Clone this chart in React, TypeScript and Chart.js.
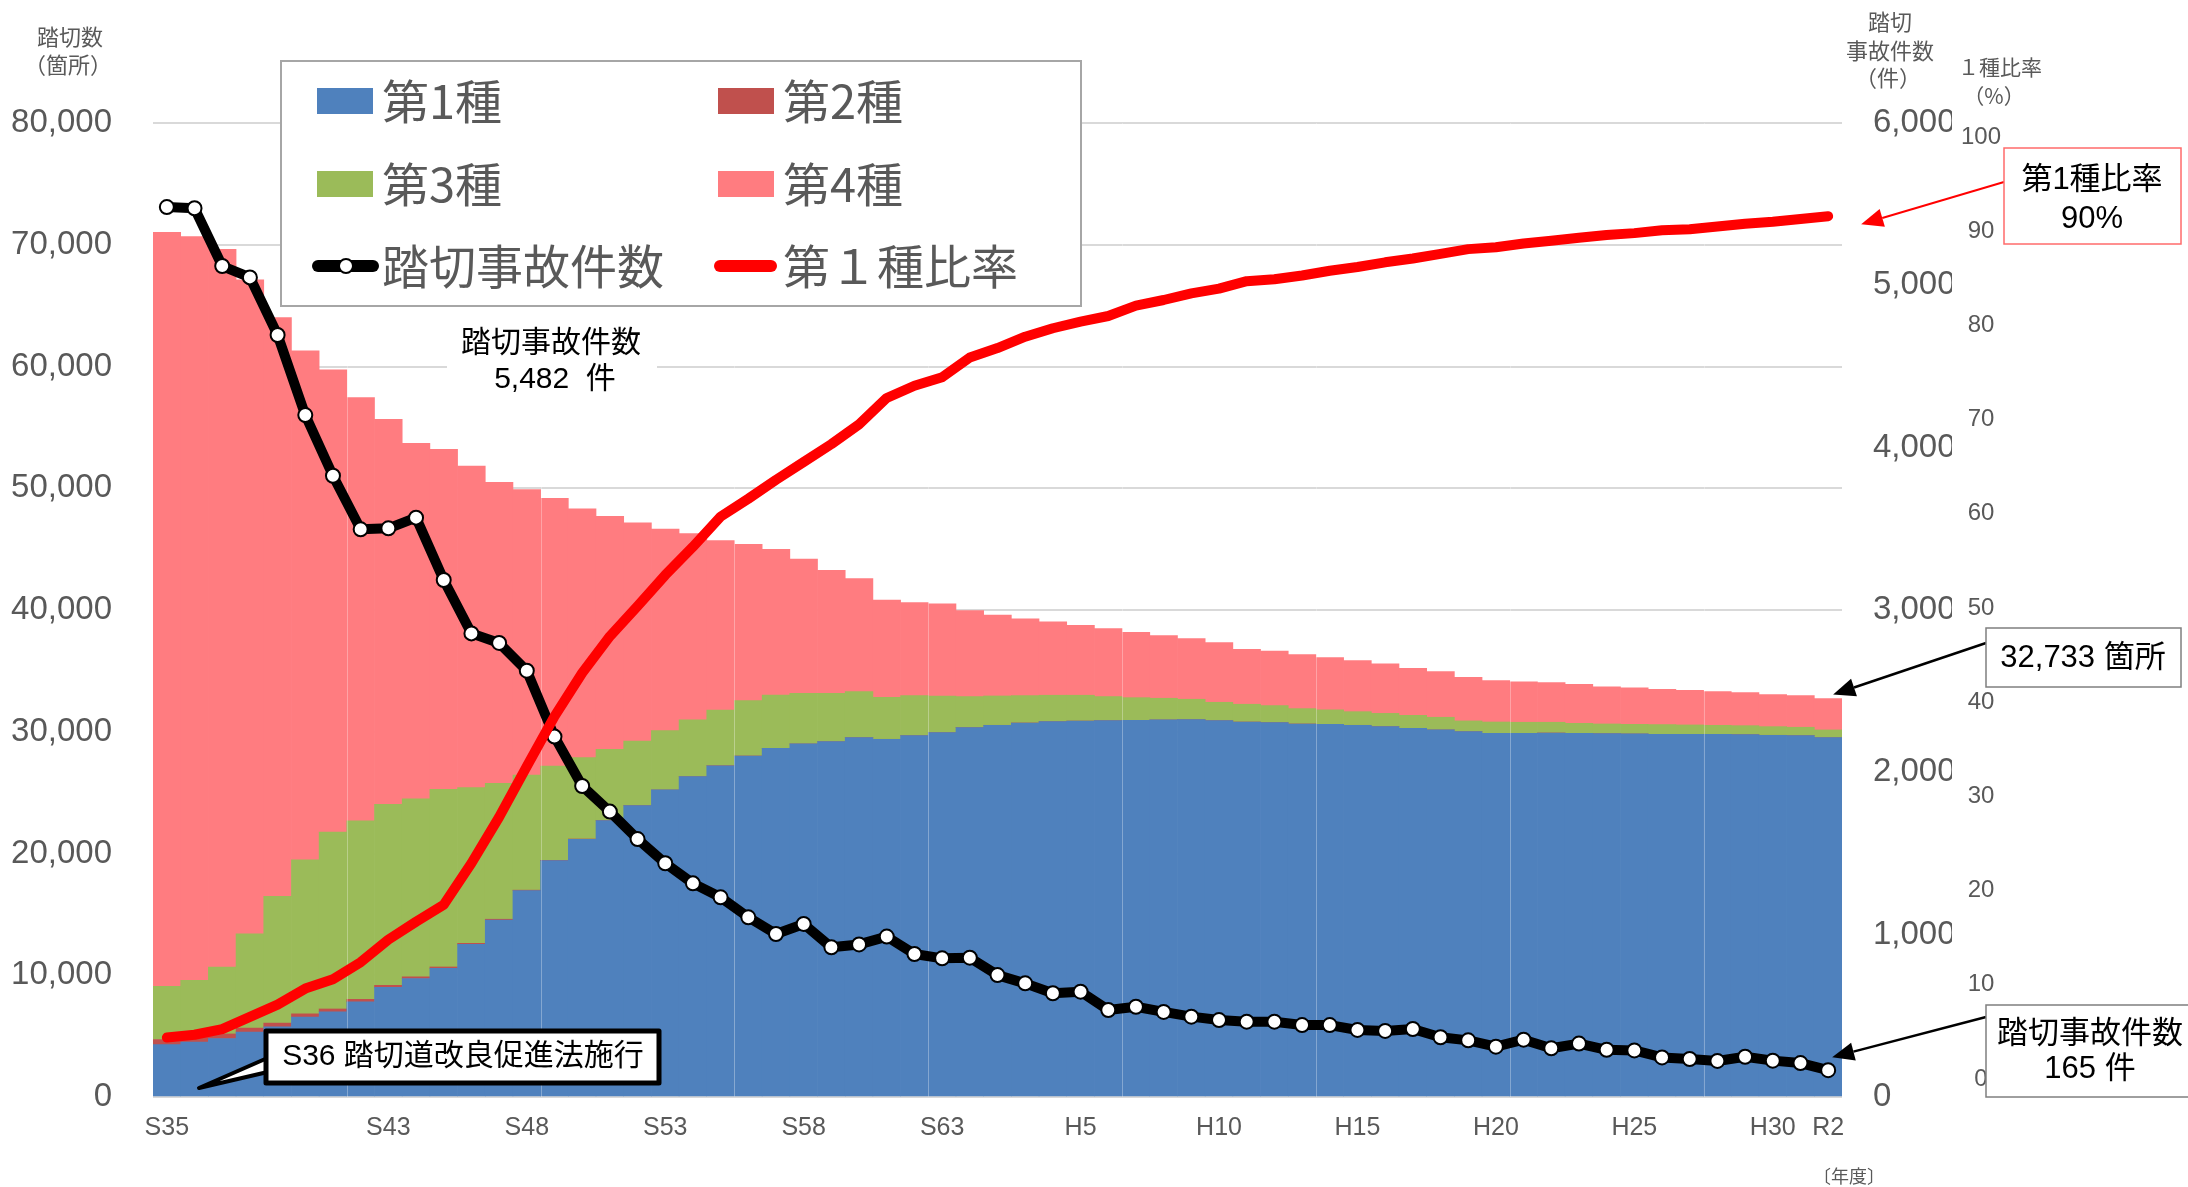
import React, { useEffect, useRef } from 'react';
import { Chart, registerables } from 'chart.js';

Chart.register(...registerables);

const years = [
  'S35', 'S36', 'S37', 'S38', 'S39', 'S40', 'S41', 'S42', 'S43', 'S44',
  'S45', 'S46', 'S47', 'S48', 'S49', 'S50', 'S51', 'S52', 'S53', 'S54',
  'S55', 'S56', 'S57', 'S58', 'S59', 'S60', 'S61', 'S62', 'S63',
  'H1', 'H2', 'H3', 'H4', 'H5', 'H6', 'H7', 'H8', 'H9', 'H10',
  'H11', 'H12', 'H13', 'H14', 'H15', 'H16', 'H17', 'H18', 'H19', 'H20',
  'H21', 'H22', 'H23', 'H24', 'H25', 'H26', 'H27', 'H28', 'H29', 'H30',
  'R1', 'R2',
];

const shownYears = ['S35', 'S43', 'S48', 'S53', 'S58', 'S63', 'H5', 'H10', 'H15', 'H20', 'H25', 'H30', 'R2'];

// 第1種 (箇所)
const type1 = [
  4300, 4510, 4800, 5330, 5770, 6560, 7000, 7820, 9000, 9730,
  10570, 12540, 14540, 16950, 19410, 21170, 22700, 23930, 25220, 26310,
  27210, 28010, 28640, 29000, 29190, 29520, 29380, 29680, 29930,
  30340, 30530, 30720, 30830, 30880, 30910, 30940, 30970, 30990, 30910,
  30800, 30750, 30640, 30610, 30530, 30420, 30280, 30150, 30010, 29870,
  29870, 29900, 29870, 29850, 29820, 29790, 29790, 29790, 29760, 29710,
  29680, 29520,
];

// 第2種 (箇所)
const type2 = [
  420, 400, 380, 330, 300, 270, 230, 200, 170, 140,
  110, 80, 60, 40, 30, 20, 10, 5, 0, 0,
  0, 0, 0, 0, 0, 0, 0, 0, 0,
  0, 0, 0, 0, 0, 0, 0, 0, 0, 0,
  0, 0, 0, 0, 0, 0, 0, 0, 0, 0,
  0, 0, 0, 0, 0, 0, 0, 0, 0, 0,
  0, 0,
];

// 第3種 (箇所)
const type3 = [
  4370, 4670, 5490, 7740, 10410, 12640, 14530, 14670, 14870, 14620,
  14590, 12790, 11160, 9460, 7750, 6680, 5850, 5305, 4870, 4660,
  4580, 4550, 4380, 4160, 3970, 3780, 3450, 3290, 3010,
  2550, 2410, 2250, 2170, 2120, 1980, 1860, 1780, 1680, 1510,
  1460, 1400, 1260, 1190, 1120, 1090, 1070, 1040, 880, 930,
  910, 880, 820, 790, 790, 800, 770, 740, 740, 710,
  690, 630,
];

// 第4種 (箇所)
const type4 = [
  61940, 61090, 58960, 53710, 47530, 41810, 37960, 34750, 31620, 29200,
  27930, 26420, 24730, 23450, 21990, 20430, 19140, 17910, 16560, 15310,
  13910, 12840, 11960, 11030, 10100, 9280, 7990, 7630, 7560,
  7060, 6650, 6300, 6020, 5750, 5580, 5370, 5150, 4980, 4900,
  4510, 4480, 4430, 4290, 4190, 4060, 3860, 3750, 3580, 3400,
  3310, 3250, 3210, 3040, 2990, 2900, 2840, 2770, 2710, 2630,
  2600, 2583,
];

// 踏切事故件数 (件)
const accidents = [
  5482, 5475, 5119, 5049, 4694, 4201, 3827, 3497, 3503, 3569,
  3185, 2856, 2797, 2626, 2220, 1916, 1758, 1589, 1440, 1316,
  1230, 1107, 1004, 1066, 922, 940, 988, 881, 854,
  858, 751, 700, 639, 649, 536, 556, 524, 495, 474,
  464, 464, 443, 443, 413, 407, 419, 368, 349, 310,
  353, 300, 329, 291, 287, 244, 234, 222, 248, 224,
  209, 165,
];

// 第1種比率 (%)
const type1Ratio = [
  4.4, 4.7, 5.3, 6.6, 7.9, 9.6, 10.6, 12.4, 14.8, 16.7,
  18.5, 22.9, 27.8, 33.2, 38.5, 43.1, 47.0, 50.2, 53.5, 56.5,
  59.7, 61.6, 63.6, 65.5, 67.4, 69.5, 72.3, 73.6, 74.5,
  76.6, 77.6, 78.8, 79.7, 80.4, 81.0, 82.1, 82.7, 83.4, 83.9,
  84.7, 84.9, 85.3, 85.8, 86.2, 86.7, 87.1, 87.6, 88.1, 88.3,
  88.7, 89.0, 89.3, 89.6, 89.8, 90.1, 90.2, 90.5, 90.8, 91.0,
  91.3, 91.6,
];

const ratioTicks = [0, 10, 20, 30, 40, 50, 60, 70, 80, 90, 100];

const C_T1 = '#4F81BD';
const C_T2 = '#C0504D';
const C_T3 = '#9BBB59';
const C_T4 = '#FF7C80';
const C_RATIO = '#FF0000';
const GRAY = '#595959';
const NUM = '"Liberation Sans", Arial, "Noto Sans CJK JP", sans-serif';
const JP = '"Noto Sans CJK JP", "Noto Sans", sans-serif';
const MIX = '"Liberation Sans", Arial, "Noto Sans CJK JP", sans-serif';

function drawArrow(ctx: CanvasRenderingContext2D, x1: number, y1: number, x2: number, y2: number, color: string, w: number, head: number) {
  const ang = Math.atan2(y2 - y1, x2 - x1);
  const hx = x2 - head * Math.cos(ang);
  const hy = y2 - head * Math.sin(ang);
  ctx.save();
  ctx.strokeStyle = color;
  ctx.lineWidth = w;
  ctx.beginPath();
  ctx.moveTo(x1, y1);
  ctx.lineTo(hx, hy);
  ctx.stroke();
  ctx.fillStyle = color;
  const hw = head * 0.42;
  ctx.beginPath();
  ctx.moveTo(x2, y2);
  ctx.lineTo(hx + hw * Math.sin(ang), hy - hw * Math.cos(ang));
  ctx.lineTo(hx - hw * Math.sin(ang), hy + hw * Math.cos(ang));
  ctx.closePath();
  ctx.fill();
  ctx.restore();
}

function text(ctx: CanvasRenderingContext2D, s: string, x: number, y: number, font: string, color: string, align: CanvasTextAlign = 'center') {
  ctx.font = font;
  ctx.fillStyle = color;
  ctx.textAlign = align;
  ctx.textBaseline = 'middle';
  ctx.fillText(s, x, y);
}

const overlayPlugin = {
  id: 'overlay',
  afterDatasetDraw(chart: any, args: any) {
    if (args.index !== 0) return;
    const { ctx, chartArea, scales } = chart;
    const xs = scales.x;
    ctx.save();
    ctx.strokeStyle = 'rgba(255,255,255,0.3)';
    ctx.lineWidth = 1;
    for (let k = 7; k < years.length; k += 7) {
      const x = Math.round((xs.getPixelForValue(k - 1) + xs.getPixelForValue(k)) / 2) + 0.5;
      ctx.beginPath();
      ctx.moveTo(x, chartArea.top);
      ctx.lineTo(x, chartArea.bottom);
      ctx.stroke();
    }
    ctx.restore();
  },
  afterDraw(chart: any) {
    const { ctx, scales } = chart;
    const xs = scales.x;
    const ys = scales.y;
    const y1s = scales.y1;
    const y2s = scales.y2;
    const last = years.length - 1;
    ctx.save();

    // axis titles
    text(ctx, '踏切数', 70, 37, `22px ${JP}`, GRAY);
    text(ctx, '（箇所）', 68, 65, `22px ${JP}`, GRAY);
    text(ctx, '踏切', 1890, 22, `22px ${JP}`, GRAY);
    text(ctx, '事故件数', 1890, 51, `22px ${JP}`, GRAY);
    text(ctx, '（件）', 1888, 78, `22px ${JP}`, GRAY);
    text(ctx, '１種比率', 2000, 67, `21px ${JP}`, GRAY);
    text(ctx, '（%）', 1994, 96, `21px ${JP}`, GRAY);
    text(ctx, '〔年度〕', 1849, 1176, `18px ${JP}`, GRAY);

    // legend
    ctx.fillStyle = '#FFFFFF';
    ctx.fillRect(281, 61, 800, 245);
    ctx.strokeStyle = '#A6A6A6';
    ctx.lineWidth = 2;
    ctx.strokeRect(281, 61, 800, 245);
    const lf = `47px ${JP}`;
    const rows = [101, 184, 266];
    const c1 = 317, c2 = 718, tx1 = 382, tx2 = 783;
    ctx.fillStyle = C_T1; ctx.fillRect(c1, rows[0] - 13, 56, 26);
    ctx.fillStyle = C_T2; ctx.fillRect(c2, rows[0] - 13, 56, 26);
    ctx.fillStyle = C_T3; ctx.fillRect(c1, rows[1] - 13, 56, 26);
    ctx.fillStyle = C_T4; ctx.fillRect(c2, rows[1] - 13, 56, 26);
    text(ctx, '第1種', tx1, rows[0], lf, GRAY, 'left');
    text(ctx, '第2種', tx2, rows[0], lf, GRAY, 'left');
    text(ctx, '第3種', tx1, rows[1], lf, GRAY, 'left');
    text(ctx, '第4種', tx2, rows[1], lf, GRAY, 'left');
    ctx.lineCap = 'round';
    ctx.strokeStyle = '#000000';
    ctx.lineWidth = 12;
    ctx.beginPath(); ctx.moveTo(318, rows[2]); ctx.lineTo(373, rows[2]); ctx.stroke();
    ctx.fillStyle = '#FFFFFF';
    ctx.lineWidth = 2;
    ctx.beginPath(); ctx.arc(346, rows[2], 7, 0, Math.PI * 2); ctx.fill(); ctx.stroke();
    ctx.strokeStyle = C_RATIO;
    ctx.lineWidth = 12;
    ctx.beginPath(); ctx.moveTo(720, rows[2]); ctx.lineTo(771, rows[2]); ctx.stroke();
    ctx.lineCap = 'butt';
    text(ctx, '踏切事故件数', tx1, rows[2], lf, GRAY, 'left');
    text(ctx, '第１種比率', tx2, rows[2], lf, GRAY, 'left');

    // peak accidents label
    ctx.fillStyle = '#FFFFFF';
    ctx.fillRect(447, 320, 210, 80);
    text(ctx, '踏切事故件数', 551, 341, `30px ${JP}`, '#000000');
    text(ctx, '5,482  件', 555, 380, `30px ${MIX}`, '#000000');

    // ratio callout
    const rx = xs.getPixelForValue(last);
    const ry = y2s.getPixelForValue(type1Ratio[last]);
    drawArrow(ctx, 2004, 182, rx + 33, ry + 8, '#FF0000', 2, 22);
    ctx.fillStyle = '#FFFFFF';
    ctx.fillRect(2004, 148, 177, 96);
    ctx.strokeStyle = '#FF6B6B';
    ctx.lineWidth = 1.5;
    ctx.strokeRect(2004, 148, 177, 96);
    text(ctx, '第1種比率', 2092, 180, `31px ${MIX}`, '#000000');
    text(ctx, '90%', 2092, 219, `31px ${MIX}`, '#000000');

    // total callout
    const total = type1[last] + type2[last] + type3[last] + type4[last];
    const ty = ys.getPixelForValue(total);
    drawArrow(ctx, 1986, 643, rx + 5, ty - 4, '#000000', 2.5, 22);
    ctx.fillStyle = '#FFFFFF';
    ctx.fillRect(1986, 628, 195, 59);
    ctx.strokeStyle = '#7F7F7F';
    ctx.lineWidth = 1.5;
    ctx.strokeRect(1986, 628, 195, 59);
    text(ctx, '32,733 箇所', 2083, 658, `31px ${MIX}`, '#000000');

    // accidents callout
    const ay = y1s.getPixelForValue(accidents[last]);
    drawArrow(ctx, 1986, 1017, rx + 4, ay - 13, '#000000', 2.5, 22);
    ctx.fillStyle = '#FFFFFF';
    ctx.fillRect(1986, 1005, 210, 92);
    ctx.strokeStyle = '#7F7F7F';
    ctx.lineWidth = 1.5;
    ctx.strokeRect(1986, 1005, 210, 92);
    text(ctx, '踏切事故件数', 2090, 1031, `31px ${JP}`, '#000000');
    text(ctx, '165 件', 2090, 1069, `31px ${MIX}`, '#000000');

    // S36 callout
    ctx.lineJoin = 'round';
    ctx.fillStyle = '#FFFFFF';
    ctx.strokeStyle = '#000000';
    ctx.lineWidth = 4;
    ctx.beginPath();
    ctx.moveTo(272, 1056);
    ctx.lineTo(199, 1088);
    ctx.lineTo(272, 1071);
    ctx.closePath();
    ctx.fill();
    ctx.stroke();
    ctx.lineWidth = 5;
    ctx.beginPath();
    ctx.rect(266, 1031, 393, 52);
    ctx.fill();
    ctx.stroke();
    text(ctx, 'S36 踏切道改良促進法施行', 463, 1057, `30px ${MIX}`, '#000000');

    ctx.restore();
  },
};

export default function App() {
  const ref = useRef<HTMLCanvasElement>(null);

  useEffect(() => {
    document.body.style.margin = '0';
    document.body.style.overflow = 'hidden';
    const canvas = ref.current;
    if (!canvas) return;
    const chart = new Chart(canvas, {
      type: 'bar',
      data: {
        labels: years,
        datasets: [
          { type: 'bar', label: '第1種', data: type1, backgroundColor: C_T1, borderWidth: 0, yAxisID: 'y', stack: 's', order: 2, barPercentage: 1, categoryPercentage: 1 },
          { type: 'bar', label: '第2種', data: type2, backgroundColor: C_T2, borderWidth: 0, yAxisID: 'y', stack: 's', order: 2, barPercentage: 1, categoryPercentage: 1 },
          { type: 'bar', label: '第3種', data: type3, backgroundColor: C_T3, borderWidth: 0, yAxisID: 'y', stack: 's', order: 2, barPercentage: 1, categoryPercentage: 1 },
          { type: 'bar', label: '第4種', data: type4, backgroundColor: C_T4, borderWidth: 0, yAxisID: 'y', stack: 's', order: 2, barPercentage: 1, categoryPercentage: 1 },
          {
            type: 'line', label: '踏切事故件数', data: accidents, yAxisID: 'y1', order: 1,
            borderColor: '#000000', borderWidth: 10, tension: 0, borderJoinStyle: 'round', borderCapStyle: 'round',
            pointRadius: 7, pointBackgroundColor: '#FFFFFF', pointBorderColor: '#000000', pointBorderWidth: 2,
          },
          {
            type: 'line', label: '第1種比率', data: type1Ratio, yAxisID: 'y2', order: 0,
            borderColor: C_RATIO, borderWidth: 10, tension: 0, borderJoinStyle: 'round', borderCapStyle: 'round',
            pointRadius: 0,
          },
        ] as any,
      },
      options: {
        responsive: false,
        animation: false,
        devicePixelRatio: 1,
        layout: { padding: { left: 0, right: 136, top: 123, bottom: 0 } },
        plugins: {
          legend: { display: false },
          tooltip: { enabled: false },
        },
        scales: {
          x: {
            stacked: true,
            grid: { display: false, drawTicks: false },
            border: { display: false },
            ticks: {
              autoSkip: false, maxRotation: 0, minRotation: 0, padding: 16,
              color: GRAY, font: { family: NUM, size: 25 },
              callback: (_v: any, i: number) => (shownYears.includes(years[i]) ? years[i] : ''),
            },
            afterFit: (s: any) => { s.height = 90; },
          },
          y: {
            stacked: true,
            position: 'left',
            min: 0, max: 80000,
            grid: { color: '#D9D9D9', lineWidth: 2, drawTicks: false },
            border: { display: false },
            ticks: {
              stepSize: 10000, padding: 41, color: GRAY, font: { family: NUM, size: 33 },
              callback: (v: any) => Number(v).toLocaleString('en-US'),
            },
            afterFit: (s: any) => { s.width = 153; },
          },
          y1: {
            position: 'right',
            weight: 0,
            min: 0, max: 6000,
            grid: { display: false, drawOnChartArea: false, drawTicks: false },
            border: { display: false },
            ticks: {
              stepSize: 1000, padding: 31, color: GRAY, font: { family: NUM, size: 33 },
              callback: (v: any) => Number(v).toLocaleString('en-US'),
            },
            afterFit: (s: any) => { s.width = 110; },
          },
          y2: {
            position: 'right',
            weight: 1,
            min: -1.91, max: 101.49,
            grid: { display: false, drawOnChartArea: false, drawTicks: false },
            border: { display: false },
            afterBuildTicks: (s: any) => { s.ticks = ratioTicks.map((v) => ({ value: v })); },
            ticks: {
              padding: 9, crossAlign: 'center', color: GRAY, font: { family: NUM, size: 24 },
              callback: (v: any) => String(v),
            },
            afterFit: (s: any) => { s.width = 100; },
          },
        },
      } as any,
      plugins: [overlayPlugin as any],
    });
    return () => chart.destroy();
  }, []);

  return (
    <div style={{ width: 2188, height: 1187, background: '#FFFFFF' }}>
      <canvas ref={ref} width={2188} height={1187} style={{ display: 'block' }} />
    </div>
  );
}
